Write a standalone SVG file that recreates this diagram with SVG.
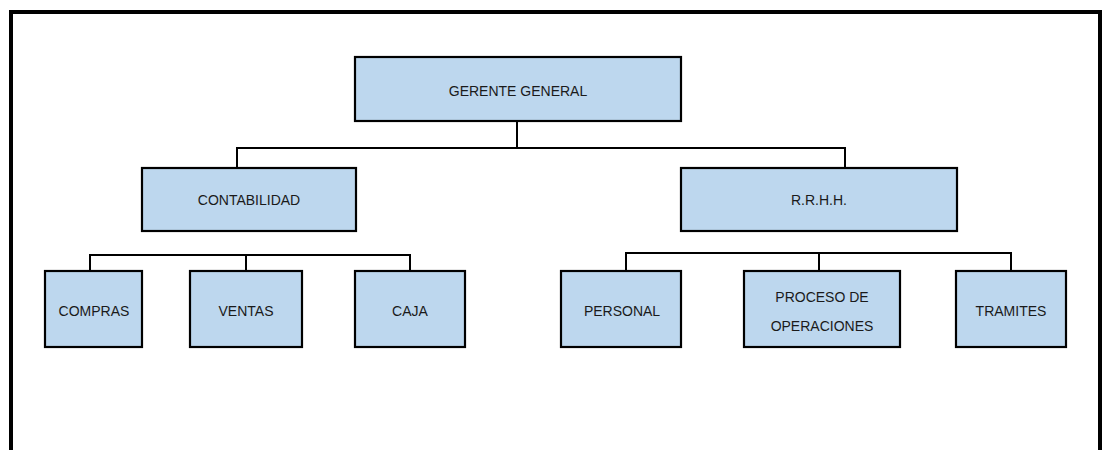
<svg xmlns="http://www.w3.org/2000/svg" width="1108" height="450" viewBox="0 0 1108 450">
<style>
.box{fill:#BDD7EE;stroke:#000;stroke-width:2.2}
.lbl{font-family:"Liberation Sans",Arial,sans-serif;font-size:14px;fill:#1a1a1a;text-anchor:middle;dominant-baseline:central}
.con{fill:none;stroke:#000;stroke-width:2}
</style>
<rect x="0" y="0" width="1108" height="450" fill="#fff"/>
<rect id="frame" x="11" y="12" width="1089" height="460" fill="none" stroke="#000" stroke-width="4"/>
<g id="connectors">
<path class="con" d="M517 121 V148 M237 168 V148 H845 V168"/>
<path class="con" d="M90 270 V255 H410 V270 M246 255 V270"/>
<path class="con" d="M626 271 V253 H1011 V271 M819 253 V271"/>
</g>
<g id="gerente"><rect class="box" x="355" y="57" width="326" height="64"/><text class="lbl" x="518" y="91">GERENTE GENERAL</text></g>
<g id="contabilidad"><rect class="box" x="142" y="168" width="214" height="63"/><text class="lbl" x="249" y="200">CONTABILIDAD</text></g>
<g id="rrhh"><rect class="box" x="681" y="168" width="276" height="63"/><text class="lbl" x="819" y="200">R.R.H.H.</text></g>
<g id="compras"><rect class="box" x="45" y="271" width="97" height="76"/><text class="lbl" x="94" y="311">COMPRAS</text></g>
<g id="ventas"><rect class="box" x="190" y="271" width="112" height="76"/><text class="lbl" x="246" y="311">VENTAS</text></g>
<g id="caja"><rect class="box" x="355" y="271" width="110" height="76"/><text class="lbl" x="410" y="311">CAJA</text></g>
<g id="personal"><rect class="box" x="561" y="271" width="120" height="76"/><text class="lbl" x="622" y="311">PERSONAL</text></g>
<g id="proceso"><rect class="box" x="744" y="271" width="156" height="76"/><text class="lbl" x="822" y="297">PROCESO DE</text><text class="lbl" x="822" y="326">OPERACIONES</text></g>
<g id="tramites"><rect class="box" x="956" y="271" width="110" height="76"/><text class="lbl" x="1011" y="311">TRAMITES</text></g>
</svg>
